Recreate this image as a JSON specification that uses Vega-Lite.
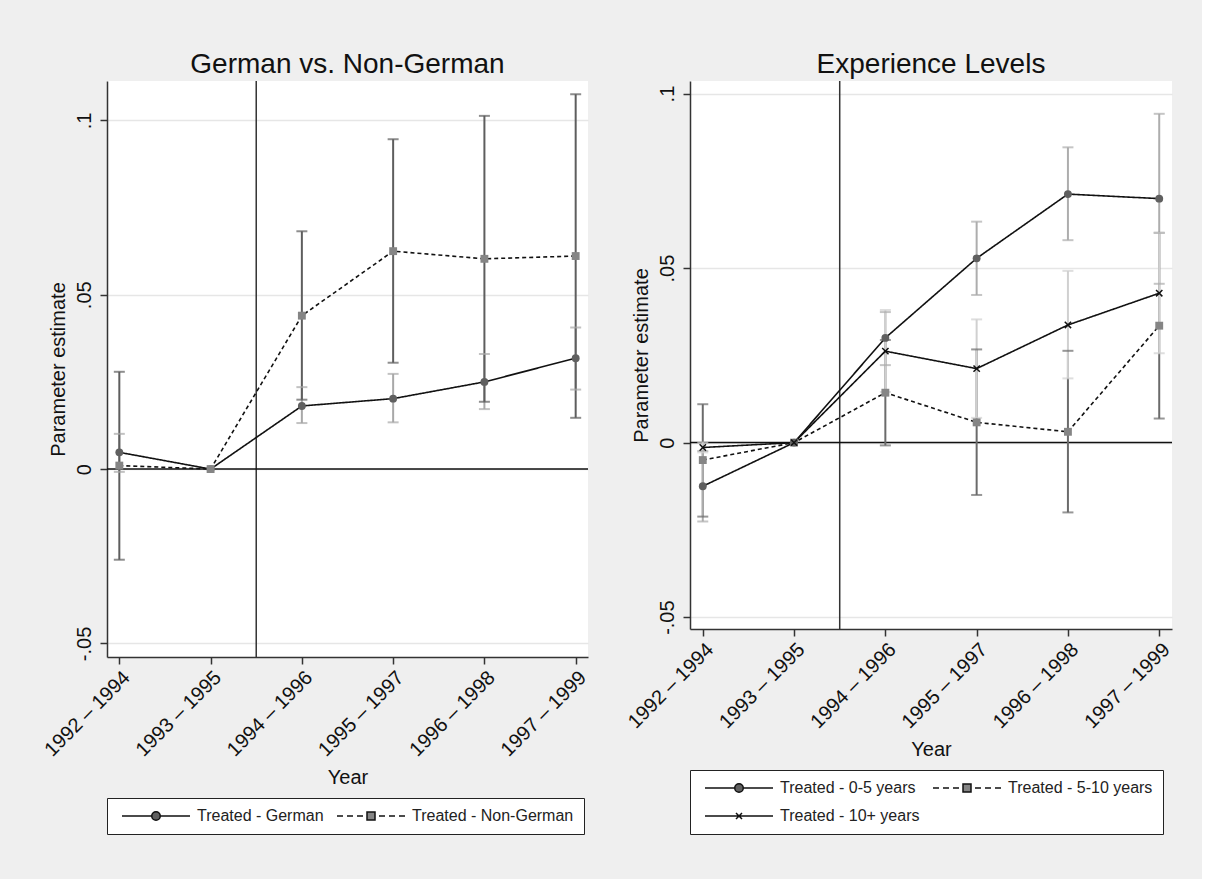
{
  "$schema": "https://vega.github.io/schema/vega-lite/v6.json",
  "background": "#efefef",
  "padding": {"left": 40, "top": 51, "right": 28, "bottom": 44},
  "datasets": {
    "left": [
      {"i": 0, "grp": "Treated - German", "est": 0.0048, "lo": -0.0008, "hi": 0.0101},
      {"i": 1, "grp": "Treated - German", "est": 0, "lo": null, "hi": null},
      {"i": 2, "grp": "Treated - German", "est": 0.0181, "lo": 0.0132, "hi": 0.0235},
      {"i": 3, "grp": "Treated - German", "est": 0.0202, "lo": 0.0134, "hi": 0.0273},
      {"i": 4, "grp": "Treated - German", "est": 0.0250, "lo": 0.0172, "hi": 0.0330},
      {"i": 5, "grp": "Treated - German", "est": 0.0318, "lo": 0.0228, "hi": 0.0406},
      {"i": 0, "grp": "Treated - Non-German", "est": 0.0010, "lo": -0.0260, "hi": 0.0279},
      {"i": 1, "grp": "Treated - Non-German", "est": 0, "lo": null, "hi": null},
      {"i": 2, "grp": "Treated - Non-German", "est": 0.0440, "lo": 0.0199, "hi": 0.0682},
      {"i": 3, "grp": "Treated - Non-German", "est": 0.0625, "lo": 0.0305, "hi": 0.0946},
      {"i": 4, "grp": "Treated - Non-German", "est": 0.0603, "lo": 0.0193, "hi": 0.1013},
      {"i": 5, "grp": "Treated - Non-German", "est": 0.0611, "lo": 0.0147, "hi": 0.1075}
    ],
    "right": [
      {"i": 0, "grp": "Treated - 5-10 years", "est": -0.0050, "lo": -0.0212, "hi": 0.0110},
      {"i": 1, "grp": "Treated - 5-10 years", "est": 0, "lo": null, "hi": null},
      {"i": 2, "grp": "Treated - 5-10 years", "est": 0.0143, "lo": -0.0008, "hi": 0.0294},
      {"i": 3, "grp": "Treated - 5-10 years", "est": 0.0058, "lo": -0.0150, "hi": 0.0267},
      {"i": 4, "grp": "Treated - 5-10 years", "est": 0.0031, "lo": -0.0200, "hi": 0.0263},
      {"i": 5, "grp": "Treated - 5-10 years", "est": 0.0335, "lo": 0.0069, "hi": 0.0601},
      {"i": 0, "grp": "Treated - 0-5 years", "est": -0.0125, "lo": -0.0226, "hi": -0.0024},
      {"i": 1, "grp": "Treated - 0-5 years", "est": 0, "lo": null, "hi": null},
      {"i": 2, "grp": "Treated - 0-5 years", "est": 0.0300, "lo": 0.0222, "hi": 0.0374},
      {"i": 3, "grp": "Treated - 0-5 years", "est": 0.0528, "lo": 0.0423, "hi": 0.0633},
      {"i": 4, "grp": "Treated - 0-5 years", "est": 0.0712, "lo": 0.0580, "hi": 0.0846},
      {"i": 5, "grp": "Treated - 0-5 years", "est": 0.0699, "lo": 0.0455, "hi": 0.0942},
      {"i": 0, "grp": "Treated - 10+ years", "est": -0.0014, "lo": -0.0028, "hi": 0.0000},
      {"i": 1, "grp": "Treated - 10+ years", "est": 0, "lo": null, "hi": null},
      {"i": 2, "grp": "Treated - 10+ years", "est": 0.0262, "lo": 0.0145, "hi": 0.0380},
      {"i": 3, "grp": "Treated - 10+ years", "est": 0.0212, "lo": 0.0071, "hi": 0.0353},
      {"i": 4, "grp": "Treated - 10+ years", "est": 0.0337, "lo": 0.0184, "hi": 0.0492},
      {"i": 5, "grp": "Treated - 10+ years", "est": 0.0428, "lo": 0.0256, "hi": 0.0601}
    ],
    "cut": [{"at": 1.5}],
    "zero": [{"at": 0}]
  },
  "config": {
    "font": "Liberation Sans",
    "view": {"stroke": null, "fill": "white"},
    "title": {"fontSize": 28, "fontWeight": "normal", "color": "#111", "offset": 0, "dy": 3},
    "axis": {
      "domainColor": "#333", "domainWidth": 1.5,
      "tickColor": "#333", "tickWidth": 1.5, "tickSize": 7,
      "labelColor": "#111", "labelFontSize": 20,
      "titleColor": "#111", "titleFontSize": 20, "titleFontWeight": "normal",
      "gridColor": "#e6e6e6", "gridWidth": 1.5
    },
    "legend": {
      "labelFontSize": 16, "labelColor": "#222", "labelLimit": 400,
      "strokeColor": "#222", "fillColor": "white", "padding": 10,
      "rowPadding": 12, "columnPadding": 8, "offset": 10,
      "symbolStrokeColor": "#111", "symbolStrokeWidth": 1.5, "symbolOpacity": 1
    },
    "concat": {"spacing": 34}
  },
  "resolve": {
    "scale": {"shape": "independent", "fill": "independent", "stroke": "independent"},
    "legend": {"shape": "independent", "fill": "independent", "stroke": "independent"}
  },
  "hconcat": [
    {
      "title": "German vs. Non-German",
      "width": 481,
      "height": 576,
      "layer": [
        {
          "data": {"name": "cut"},
          "mark": {"type": "rule", "color": "#333", "strokeWidth": 1.5},
          "encoding": {"x": {"field": "at", "type": "quantitative"}}
        },
        {
          "data": {"name": "zero"},
          "mark": {"type": "rule", "color": "#111", "strokeWidth": 1.5},
          "encoding": {"y": {"field": "at", "type": "quantitative"}}
        },
        {
          "data": {"name": "left"},
          "transform": [{"filter": "datum.lo != null"}],
          "mark": {"type": "rule", "strokeWidth": 2},
          "encoding": {
            "x": {"field": "i", "type": "quantitative"},
            "y": {"field": "lo", "type": "quantitative"},
            "y2": {"field": "hi"},
            "color": {"condition": {"test": "datum.grp === 'Treated - German'", "value": "#a8a8a8"}, "value": "#5e5e5e"}
          }
        },
        {
          "data": {"name": "left"},
          "transform": [{"filter": "datum.lo != null"}],
          "mark": {"type": "tick", "orient": "horizontal", "size": 11, "thickness": 2},
          "encoding": {
            "x": {"field": "i", "type": "quantitative"},
            "y": {"field": "lo", "type": "quantitative"},
            "color": {"condition": {"test": "datum.grp === 'Treated - German'", "value": "#a8a8a8"}, "value": "#5e5e5e"}
          }
        },
        {
          "data": {"name": "left"},
          "transform": [{"filter": "datum.hi != null"}],
          "mark": {"type": "tick", "orient": "horizontal", "size": 11, "thickness": 2},
          "encoding": {
            "x": {"field": "i", "type": "quantitative"},
            "y": {"field": "hi", "type": "quantitative"},
            "color": {"condition": {"test": "datum.grp === 'Treated - German'", "value": "#a8a8a8"}, "value": "#5e5e5e"}
          }
        },
        {
          "data": {"name": "left"},
          "mark": {"type": "line", "color": "#111", "strokeWidth": 1.6},
          "encoding": {
            "x": {"field": "i", "type": "quantitative"},
            "y": {"field": "est", "type": "quantitative"},
            "detail": {"field": "grp", "type": "nominal"},
            "strokeDash": {"condition": {"test": "datum.grp === 'Treated - German'", "value": [1, 0]}, "value": [4, 3]}
          }
        },
        {
          "data": {"name": "left"},
          "mark": {"type": "point", "filled": true, "opacity": 1, "size": 62},
          "encoding": {
            "x": {
              "field": "i", "type": "quantitative",
              "scale": {"domain": [-0.135, 5.135], "nice": false, "zero": false},
              "axis": {
                "title": "Year", "values": [0, 1, 2, 3, 4, 5], "grid": false,
                "labelAngle": -45, "labelPadding": 3, "labelOverlap": false, "labelBound": false, "labelFlush": false,
                "labelExpr": "['1992 – 1994', '1993 – 1995', '1994 – 1996', '1995 – 1997', '1996 – 1998', '1997 – 1999'][datum.value]",
                "titlePadding": 8
              }
            },
            "y": {
              "field": "est", "type": "quantitative",
              "scale": {"domain": [-0.0539, 0.1113], "nice": false, "zero": false},
              "axis": {
                "title": "Parameter estimate", "values": [-0.05, 0, 0.05, 0.1], "grid": true,
                "labelAngle": -90, "labelPadding": 6, "titlePadding": 6,
                "labelExpr": "datum.value < 0 ? '-.05' : datum.value == 0 ? '0' : datum.value < 0.07 ? '.05' : '.1'"
              }
            },
            "shape": {"condition": {"test": "datum.grp === 'Treated - German'", "value": "circle"}, "value": "square"},
            "fill": {"condition": {"test": "datum.grp === 'Treated - German'", "value": "#606060"}, "value": "#858585"}
          }
        },
        {
          "data": {"name": "left"},
          "transform": [{"filter": "false"}],
          "mark": {"type": "point", "filled": true, "strokeWidth": 1.5},
          "encoding": {
            "x": {"field": "i", "type": "quantitative"},
            "y": {"field": "est", "type": "quantitative"},
            "shape": {
              "field": "grp", "type": "nominal",
              "scale": {"domain": ["Treated - German", "Treated - Non-German"], "range": [
                "M-0.6,0H5.35M7.05,0H13M5.35,0A0.85,0.85,0,1,1,7.05,0A0.85,0.85,0,1,1,5.35,0Z",
                "M-0.6,0H0.6M1.4,0H2.6M3.4,0H4.6M7.8,0H9M9.8,0H11M11.8,0H13M5.4,-0.8H7V0.8H5.4Z"
              ]},
              "legend": {"title": null, "orient": "bottom", "direction": "horizontal", "columns": 2, "symbolSize": 100, "labelOffset": 64}
            },
            "fill": {
              "field": "grp", "type": "nominal",
              "scale": {"domain": ["Treated - German", "Treated - Non-German"], "range": ["#606060", "#858585"]},
              "legend": {"title": null, "orient": "bottom", "direction": "horizontal", "columns": 2, "symbolSize": 100, "labelOffset": 64}
            },
            "stroke": {
              "field": "grp", "type": "nominal",
              "scale": {"domain": ["Treated - German", "Treated - Non-German"], "range": ["#111111", "#111111"]},
              "legend": {"title": null, "orient": "bottom", "direction": "horizontal", "columns": 2, "symbolSize": 100, "labelOffset": 64}
            }
          }
        }
      ]
    },
    {
      "title": "Experience Levels",
      "width": 482,
      "height": 548,
      "layer": [
        {
          "data": {"name": "cut"},
          "mark": {"type": "rule", "color": "#333", "strokeWidth": 1.5},
          "encoding": {"x": {"field": "at", "type": "quantitative"}}
        },
        {
          "data": {"name": "zero"},
          "mark": {"type": "rule", "color": "#111", "strokeWidth": 1.5},
          "encoding": {"y": {"field": "at", "type": "quantitative"}}
        },
        {
          "data": {"name": "right"},
          "transform": [{"filter": "datum.lo != null"}],
          "mark": {"type": "rule", "strokeWidth": 2},
          "encoding": {
            "x": {"field": "i", "type": "quantitative"},
            "y": {"field": "lo", "type": "quantitative"},
            "y2": {"field": "hi"},
            "color": {"condition": [
              {"test": "datum.grp === 'Treated - 0-5 years'", "value": "#adadad"},
              {"test": "datum.grp === 'Treated - 5-10 years'", "value": "#6b6b6b"}
            ], "value": "#d0d0d0"}
          }
        },
        {
          "data": {"name": "right"},
          "transform": [{"filter": "datum.lo != null"}],
          "mark": {"type": "tick", "orient": "horizontal", "size": 11, "thickness": 2},
          "encoding": {
            "x": {"field": "i", "type": "quantitative"},
            "y": {"field": "lo", "type": "quantitative"},
            "color": {"condition": [
              {"test": "datum.grp === 'Treated - 0-5 years'", "value": "#adadad"},
              {"test": "datum.grp === 'Treated - 5-10 years'", "value": "#6b6b6b"}
            ], "value": "#d0d0d0"}
          }
        },
        {
          "data": {"name": "right"},
          "transform": [{"filter": "datum.hi != null"}],
          "mark": {"type": "tick", "orient": "horizontal", "size": 11, "thickness": 2},
          "encoding": {
            "x": {"field": "i", "type": "quantitative"},
            "y": {"field": "hi", "type": "quantitative"},
            "color": {"condition": [
              {"test": "datum.grp === 'Treated - 0-5 years'", "value": "#adadad"},
              {"test": "datum.grp === 'Treated - 5-10 years'", "value": "#6b6b6b"}
            ], "value": "#d0d0d0"}
          }
        },
        {
          "data": {"name": "right"},
          "mark": {"type": "line", "color": "#111", "strokeWidth": 1.6},
          "encoding": {
            "x": {"field": "i", "type": "quantitative"},
            "y": {"field": "est", "type": "quantitative"},
            "detail": {"field": "grp", "type": "nominal"},
            "strokeDash": {"condition": {"test": "datum.grp === 'Treated - 5-10 years'", "value": [4, 3]}, "value": [1, 0]}
          }
        },
        {
          "data": {"name": "right"},
          "mark": {"type": "point", "filled": true, "opacity": 1, "strokeWidth": 1.5},
          "encoding": {
            "x": {
              "field": "i", "type": "quantitative",
              "scale": {"domain": [-0.14, 5.14], "nice": false, "zero": false},
              "axis": {
                "title": "Year", "values": [0, 1, 2, 3, 4, 5], "grid": false,
                "labelAngle": -45, "labelPadding": 3, "labelOverlap": false, "labelBound": false, "labelFlush": false,
                "labelExpr": "['1992 – 1994', '1993 – 1995', '1994 – 1996', '1995 – 1997', '1996 – 1998', '1997 – 1999'][datum.value]",
                "titlePadding": 8
              }
            },
            "y": {
              "field": "est", "type": "quantitative",
              "scale": {"domain": [-0.0534, 0.1036], "nice": false, "zero": false},
              "axis": {
                "title": "Parameter estimate", "values": [-0.05, 0, 0.05, 0.1], "grid": true,
                "labelAngle": -90, "labelPadding": 6, "titlePadding": 6,
                "labelExpr": "datum.value < 0 ? '-.05' : datum.value == 0 ? '0' : datum.value < 0.07 ? '.05' : '.1'"
              }
            },
            "shape": {"condition": [
              {"test": "datum.grp === 'Treated - 0-5 years'", "value": "circle"},
              {"test": "datum.grp === 'Treated - 5-10 years'", "value": "square"}
            ], "value": "M-1,-1L1,1M-1,1L1,-1"},
            "size": {"condition": {"test": "datum.grp === 'Treated - 10+ years'", "value": 40}, "value": 62},
            "fill": {"condition": [
              {"test": "datum.grp === 'Treated - 0-5 years'", "value": "#606060"},
              {"test": "datum.grp === 'Treated - 5-10 years'", "value": "#858585"}
            ], "value": "transparent"},
            "stroke": {"condition": {"test": "datum.grp === 'Treated - 10+ years'", "value": "#111"}, "value": "transparent"}
          }
        },
        {
          "data": {"name": "right"},
          "transform": [{"filter": "false"}],
          "mark": {"type": "point", "filled": true, "strokeWidth": 1.5},
          "encoding": {
            "x": {"field": "i", "type": "quantitative"},
            "y": {"field": "est", "type": "quantitative"},
            "shape": {
              "field": "grp", "type": "nominal",
              "scale": {"domain": ["Treated - 0-5 years", "Treated - 5-10 years", "Treated - 10+ years"], "range": [
                "M-0.6,0H5.35M7.05,0H13M5.35,0A0.85,0.85,0,1,1,7.05,0A0.85,0.85,0,1,1,5.35,0Z",
                "M-0.6,0H0.6M1.4,0H2.6M3.4,0H4.6M7.8,0H9M9.8,0H11M11.8,0H13M5.4,-0.8H7V0.8H5.4Z",
                "M-0.6,0H13M5.6,-0.6L6.8,0.6M5.6,0.6L6.8,-0.6"
              ]},
              "legend": {"title": null, "orient": "bottom", "direction": "horizontal", "columns": 2, "symbolSize": 100, "labelOffset": 64}
            },
            "fill": {
              "field": "grp", "type": "nominal",
              "scale": {"domain": ["Treated - 0-5 years", "Treated - 5-10 years", "Treated - 10+ years"], "range": ["#606060", "#858585", "transparent"]},
              "legend": {"title": null, "orient": "bottom", "direction": "horizontal", "columns": 2, "symbolSize": 100, "labelOffset": 64}
            },
            "stroke": {
              "field": "grp", "type": "nominal",
              "scale": {"domain": ["Treated - 0-5 years", "Treated - 5-10 years", "Treated - 10+ years"], "range": ["#111111", "#111111", "#111111"]},
              "legend": {"title": null, "orient": "bottom", "direction": "horizontal", "columns": 2, "symbolSize": 100, "labelOffset": 64}
            }
          }
        }
      ]
    }
  ]
}
